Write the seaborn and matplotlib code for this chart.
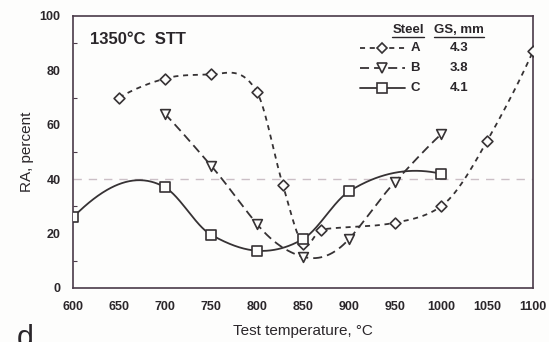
import numpy as np
import pandas as pd
import matplotlib
matplotlib.use("Agg")
import matplotlib.pyplot as plt
from matplotlib.lines import Line2D
import seaborn as sns

# Reduction of area vs. test temperature after 1350 C solution treatment
temp_a = [650, 700, 750, 800, 828, 850, 870, 950, 1000, 1050, 1100]
ra_a = [70, 77, 78.5, 72, 38, 16, 21.5, 24, 30, 54, 87]

temp_b = [700, 750, 800, 850, 900, 950, 1000]
ra_b = [64, 45, 23.5, 11.5, 18, 39, 56.5]

temp_c = [600, 700, 750, 800, 850, 900, 1000]
ra_c = [26, 37, 19.6, 13.7, 18, 35.5, 42]

steels = ["A", "B", "C"]
grain_size = ["4.3", "3.8", "4.1"]

x_ticks = [600, 650, 700, 750, 800, 850, 900, 950, 1000, 1050, 1100]
y_ticks = [0, 20, 40, 60, 80, 100]
ref_level = 40


def akima(x, y, n=400):
    """Akima spline through the measured points (smooth, little overshoot)."""
    x = np.asarray(x, float)
    y = np.asarray(y, float)
    k = len(x)
    h = np.diff(x)
    m = np.diff(y) / h
    mm = np.empty(k + 3)
    mm[2:k + 1] = m
    mm[1] = 2 * mm[2] - mm[3]
    mm[0] = 2 * mm[1] - mm[2]
    mm[k + 1] = 2 * mm[k] - mm[k - 1]
    mm[k + 2] = 2 * mm[k + 1] - mm[k]
    t = np.empty(k)
    for i in range(k):
        w1 = abs(mm[i + 3] - mm[i + 2])
        w2 = abs(mm[i + 1] - mm[i])
        if w1 + w2 < 1e-12:
            t[i] = 0.5 * (mm[i + 1] + mm[i + 2])
        else:
            t[i] = (w1 * mm[i + 1] + w2 * mm[i + 2]) / (w1 + w2)
    xs = np.linspace(x[0], x[-1], n)
    idx = np.clip(np.searchsorted(x, xs) - 1, 0, k - 2)
    hh = h[idx]
    s = (xs - x[idx]) / hh
    h00 = 2 * s ** 3 - 3 * s ** 2 + 1
    h10 = s ** 3 - 2 * s ** 2 + s
    h01 = -2 * s ** 3 + 3 * s ** 2
    h11 = s ** 3 - s ** 2
    ys = h00 * y[idx] + h10 * hh * t[idx] + h01 * y[idx + 1] + h11 * hh * t[idx + 1]
    return xs, ys


sns.set_theme(style="white")
plt.rcParams["font.family"] = ["Liberation Sans", "DejaVu Sans"]

ink = "#2a262a"
frame = "#4a3a48"
line_col = "#363234"
paper = "#fdfdfc"

fig = plt.figure(figsize=(5.49, 3.42), dpi=100, facecolor=paper)
ax = fig.add_axes([73 / 549, 1 - 288 / 342, 460 / 549, 272 / 342])
ax.set_facecolor(paper)

# reference level
ax.axhline(ref_level, color="#cbbfc6", lw=1.0, ls=(0, (6, 5)), zorder=1)

series = [
    (temp_a, ra_a, (0, (2.8, 2.6)), "D", 5.5),
    (temp_b, ra_b, (0, (5.0, 2.8)), "v", 7.0),
    (temp_c, ra_c, "-", "s", 7.5),
]

for (tx, ry, ls, mk, ms), name in zip(series, steels):
    xs, ys = akima(tx, ry)
    curve = pd.DataFrame({"temp": xs, "ra": ys})
    pts = pd.DataFrame({"temp": tx, "ra": ry})
    sns.lineplot(data=curve, x="temp", y="ra", ax=ax, color=line_col, lw=1.3,
                 linestyle=ls, zorder=2)
    sns.scatterplot(data=pts, x="temp", y="ra", ax=ax, marker=mk, s=ms ** 2,
                    facecolor=paper, edgecolor=line_col, linewidth=1.2,
                    zorder=3)

ax.set_xlim(600, 1100)
ax.set_ylim(0, 100)
ax.set_xticks(x_ticks)
ax.set_yticks(y_ticks)
ax.set_yticks([10, 30, 50, 70, 90], minor=True)
ax.tick_params(axis="both", which="major", direction="in", length=4, width=0.8,
               color=frame, labelsize=9, labelcolor=ink)
ax.tick_params(axis="y", which="major", pad=9)
ax.tick_params(axis="x", which="major", pad=9)
ax.tick_params(axis="y", which="minor", direction="in", length=3, width=0.8,
               color=frame, left=True)
for lab in ax.get_xticklabels() + ax.get_yticklabels():
    lab.set_fontweight("bold")

for sp in ax.spines.values():
    sp.set_color(frame)
    sp.set_linewidth(1.2)

ax.set_xlabel("Test temperature, \u00b0C", fontsize=11, color=ink, labelpad=8)
ax.set_ylabel("RA, percent", fontsize=11, color=ink, labelpad=4)

ax.text(0.037, 0.912, "1350\u00b0C  STT", transform=ax.transAxes, fontsize=12,
        fontweight="bold", color=ink, va="center", ha="left")


# legend table: steel, grain size
def ax_x(px):
    return (px - 73) / 460


def ax_y(py):
    return (288 - py) / 272


head_y = ax_y(30)
h1 = ax.text(ax_x(408), head_y, "Steel", transform=ax.transAxes, fontsize=9.5,
             fontweight="bold", color=ink, ha="center", va="center")
h2 = ax.text(ax_x(459), head_y, "GS, mm", transform=ax.transAxes, fontsize=9.5,
             fontweight="bold", color=ink, ha="center", va="center")

rows_py = [48, 68, 88]
for (tx, ry, ls, mk, ms), name, gs, py in zip(series, steels, grain_size, rows_py):
    yy = ax_y(py)
    ax.add_line(Line2D([ax_x(360), ax_x(405)], [yy, yy], transform=ax.transAxes,
                       color=line_col, lw=1.3, linestyle=ls, clip_on=False))
    ax.add_line(Line2D([ax_x(382)], [yy], transform=ax.transAxes, marker=mk,
                       markersize=ms, markerfacecolor=paper,
                       markeredgecolor=line_col, markeredgewidth=1.2,
                       linestyle="none", clip_on=False))
    ax.text(ax_x(415), yy, name, transform=ax.transAxes, fontsize=9.5,
            fontweight="bold", color=ink, ha="center", va="center")
    ax.text(ax_x(459), yy, gs, transform=ax.transAxes, fontsize=9.5,
            fontweight="bold", color=ink, ha="center", va="center")

# underline the table headings
fig.canvas.draw()
inv = ax.transAxes.inverted()
for h in (h1, h2):
    bb = h.get_window_extent()
    (x0, y0), (x1, _) = inv.transform([[bb.x0, bb.y0], [bb.x1, bb.y1]])
    ax.add_line(Line2D([x0, x1], [y0 - 0.004, y0 - 0.004], transform=ax.transAxes,
                       color=ink, lw=1.0, clip_on=False))

fig.text(17 / 549, 1 - 324 / 342, "d", fontsize=22, color=ink, ha="left", va="top")

fig.savefig("out.png", dpi=100, facecolor=fig.get_facecolor())
